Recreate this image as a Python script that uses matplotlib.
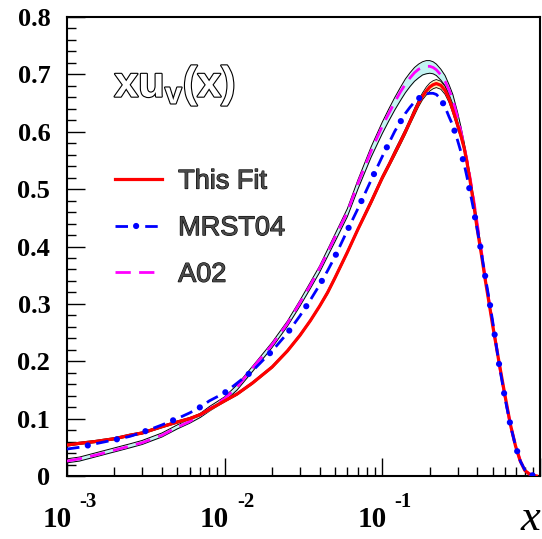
import matplotlib
matplotlib.use("Agg")
import matplotlib.pyplot as plt
import matplotlib.patheffects as pe
from matplotlib.ticker import MultipleLocator, LogLocator, NullFormatter

plt.rcParams["lines.scale_dashes"] = False
plt.rcParams["mathtext.fontset"] = "custom"
plt.rcParams["mathtext.rm"] = "Liberation Sans:bold"
plt.rcParams["mathtext.it"] = "Liberation Sans:bold"

# x grid and curves
X = [0.001, 0.0012, 0.0015, 0.002, 0.0025, 0.003, 0.004, 0.005, 0.006, 0.007,
     0.008, 0.01, 0.012, 0.015, 0.02, 0.025, 0.03, 0.035, 0.04, 0.045,
     0.05, 0.06, 0.07, 0.085, 0.1, 0.11, 0.12, 0.13, 0.14, 0.15,
     0.16, 0.17, 0.18, 0.19, 0.2, 0.21, 0.22, 0.235, 0.25, 0.265,
     0.28, 0.3, 0.315, 0.33, 0.345, 0.36, 0.38, 0.4, 0.425, 0.45,
     0.475, 0.5, 0.55, 0.6, 0.65, 0.7, 0.75, 0.8, 0.85, 0.9,
     0.95]
THIS_FIT = [0.054, 0.057, 0.060, 0.065, 0.071, 0.075, 0.086, 0.094, 0.100, 0.107,
            0.116, 0.131, 0.143, 0.162, 0.190, 0.218, 0.245, 0.271, 0.296, 0.320,
            0.345, 0.390, 0.430, 0.478, 0.520, 0.542, 0.563, 0.582, 0.600, 0.618,
            0.635, 0.650, 0.662, 0.671, 0.678, 0.682, 0.684, 0.681, 0.672, 0.657,
            0.638, 0.612, 0.593, 0.572, 0.545, 0.515, 0.473, 0.430, 0.386, 0.341,
            0.302, 0.264, 0.198, 0.140, 0.089, 0.052, 0.026, 0.010, 0.004, 0.001,
            0.000]
THIS_FIT_ERR = [0.002, 0.002, 0.002, 0.002, 0.002, 0.002, 0.002, 0.002, 0.002, 0.002,
                0.002, 0.002, 0.002, 0.002, 0.002, 0.002, 0.002, 0.002, 0.002, 0.003,
                0.003, 0.003, 0.003, 0.004, 0.004, 0.004, 0.005, 0.005, 0.005, 0.005,
                0.006, 0.006, 0.006, 0.007, 0.007, 0.007, 0.007, 0.007, 0.007, 0.006,
                0.006, 0.006, 0.005, 0.005, 0.005, 0.004, 0.004, 0.004, 0.003, 0.003,
                0.003, 0.003, 0.002, 0.002, 0.002, 0.001, 0.001, 0.001, 0.000, 0.000,
                0.000]
MRST04 = [0.047, 0.050, 0.056, 0.063, 0.069, 0.076, 0.089, 0.100, 0.110, 0.120,
          0.131, 0.145, 0.162, 0.183, 0.218, 0.249, 0.279, 0.307, 0.333, 0.358,
          0.382, 0.428, 0.466, 0.516, 0.557, 0.580, 0.601, 0.617, 0.632, 0.643,
          0.652, 0.658, 0.663, 0.666, 0.667, 0.667, 0.665, 0.657, 0.643, 0.626,
          0.611, 0.585, 0.565, 0.544, 0.520, 0.495, 0.463, 0.430, 0.389, 0.347,
          0.309, 0.271, 0.195, 0.135, 0.088, 0.052, 0.026, 0.011, 0.004, 0.001,
          0.000]
A02 = [0.026, 0.030, 0.036, 0.045, 0.052, 0.058, 0.071, 0.085, 0.095, 0.106,
       0.117, 0.135, 0.155, 0.188, 0.229, 0.266, 0.302, 0.333, 0.362, 0.390,
       0.416, 0.460, 0.510, 0.567, 0.610, 0.632, 0.652, 0.669, 0.683, 0.694,
       0.703, 0.709, 0.712, 0.714, 0.714, 0.712, 0.708, 0.699, 0.688, 0.673,
       0.655, 0.625, 0.601, 0.575, 0.549, 0.520, 0.481, 0.440, 0.392, 0.345,
       0.305, 0.267, 0.196, 0.137, 0.088, 0.052, 0.026, 0.011, 0.004, 0.001,
       0.000]
BAND_HI = [0.030, 0.033, 0.040, 0.049, 0.056, 0.062, 0.075, 0.089, 0.099, 0.109,
           0.121, 0.138, 0.159, 0.191, 0.233, 0.270, 0.306, 0.338, 0.366, 0.395,
           0.421, 0.466, 0.516, 0.574, 0.617, 0.640, 0.660, 0.677, 0.692, 0.703,
           0.712, 0.718, 0.722, 0.724, 0.724, 0.722, 0.718, 0.709, 0.698, 0.682,
           0.665, 0.634, 0.609, 0.582, 0.554, 0.525, 0.485, 0.444, 0.395, 0.348,
           0.308, 0.270, 0.198, 0.139, 0.090, 0.053, 0.027, 0.011, 0.004, 0.001,
           0.000]
BAND_LO = [0.023, 0.026, 0.033, 0.042, 0.049, 0.055, 0.068, 0.082, 0.092, 0.102,
           0.113, 0.130, 0.150, 0.182, 0.224, 0.261, 0.296, 0.327, 0.355, 0.383,
           0.408, 0.452, 0.500, 0.556, 0.597, 0.619, 0.638, 0.654, 0.668, 0.679,
           0.688, 0.694, 0.699, 0.701, 0.702, 0.701, 0.698, 0.690, 0.680, 0.665,
           0.648, 0.618, 0.594, 0.568, 0.542, 0.515, 0.477, 0.436, 0.389, 0.342,
           0.302, 0.264, 0.194, 0.135, 0.087, 0.051, 0.025, 0.010, 0.004, 0.001,
           0.000]

DECADES = [1e-3, 1e-2, 1e-1]
EXPONENTS = ["-3", "-2", "-1"]
Y_TICKS = [0, 0.1, 0.2, 0.3, 0.4, 0.5, 0.6, 0.7, 0.8]
Y_LABELS = ["0", "0.1", "0.2", "0.3", "0.4", "0.5", "0.6", "0.7", "0.8"]

fig = plt.figure(figsize=(5.42, 5.39), dpi=100)
ax = fig.add_axes([67 / 542, 63 / 539, 473 / 542, 459 / 539])

# A02 error band (cyan) and fit band (yellow)
ax.fill_between(X, BAND_LO, BAND_HI, color="#c2f3f3", lw=0, zorder=1)
ax.plot(X, BAND_HI, color="black", lw=0.7, zorder=2)
ax.plot(X, BAND_LO, color="black", lw=0.7, zorder=2)
fit_hi = [y + e for y, e in zip(THIS_FIT, THIS_FIT_ERR)]
fit_lo = [y - e for y, e in zip(THIS_FIT, THIS_FIT_ERR)]
ax.fill_between(X, fit_lo, fit_hi, color="#fbecb4", lw=0, zorder=2)
ax.plot(X, fit_hi, color="black", lw=0.6, zorder=2)
ax.plot(X, fit_lo, color="black", lw=0.6, zorder=2)

l_a02, = ax.plot(X, A02, color="#ff00ff", lw=2.0, linestyle=(0, (11, 6)), zorder=3)
l_fit, = ax.plot(X, THIS_FIT, color="#ff0000", lw=2.3, zorder=4)
# MRST04: dash line plus dots placed in the gaps (same path, aligned patterns)
l_mr1, = ax.plot(X, MRST04, color="#0000ff", lw=2.0, linestyle=(0, (9, 12.4)), zorder=5)
l_mr2, = ax.plot(X, MRST04, color="#0000ff", lw=4.5, linestyle=(6.2, (0.01, 21.39)),
                 dash_capstyle="round", zorder=5)

ax.set_xscale("log")
ax.set_xlim(1e-3, 1)
ax.set_ylim(0, 0.8)

ax.yaxis.set_minor_locator(MultipleLocator(0.02))
ax.xaxis.set_major_locator(LogLocator(base=10, numticks=10))
ax.xaxis.set_minor_locator(LogLocator(base=10, subs=range(2, 10), numticks=20))
ax.xaxis.set_major_formatter(NullFormatter())
ax.xaxis.set_minor_formatter(NullFormatter())
ax.tick_params(which="both", direction="in", top=False, right=False, width=1.0, color="black")
ax.tick_params(which="major", length=13)
ax.tick_params(which="minor", length=6.5)
ax.tick_params(axis="y", which="major", pad=12)
ax.set_yticks(Y_TICKS)
ax.set_yticklabels(Y_LABELS, fontfamily="Liberation Serif", fontweight="bold", fontsize=19)
for s in ax.spines.values():
    s.set_linewidth(1.5)

# x tick labels: "10" with a detached exponent, as in the original
xt = ax.get_xaxis_transform()
for d, e in zip(DECADES, EXPONENTS):
    ax.annotate("10", (d, 0), xycoords=xt, xytext=(3.3, -37), textcoords="offset points",
                ha="right", va="baseline", fontfamily="Liberation Serif",
                fontweight="bold", fontsize=21, annotation_clip=False)
    ax.annotate(e, (d, 0), xycoords=xt, xytext=(8.8, -22.5), textcoords="offset points",
                ha="left", va="baseline", fontfamily="Liberation Serif",
                fontweight="bold", fontsize=15, annotation_clip=False)
fig.text(530 / 542, 9 / 539, "x", ha="center", va="baseline",
         fontfamily="Liberation Serif", fontstyle="italic", fontsize=32)

# outlined (double-stroke) label
outline = [pe.withStroke(linewidth=1.6, foreground="black")]
ax.text(0.100, 0.850, r"$\mathrm{xu_{v}(x)}$", transform=ax.transAxes, ha="left",
        va="center", fontsize=31, color="white", path_effects=outline)

leg = ax.legend([l_fit, (l_mr1, l_mr2), l_a02], ["This Fit", "MRST04", "A02"],
                loc="center left", bbox_to_anchor=(0.1016, 0.540), frameon=False,
                borderpad=0, borderaxespad=0, handlelength=1.73, handletextpad=0.6,
                labelspacing=0.76, prop={"family": "Liberation Sans", "size": 19.5})
for t in leg.get_texts():
    t.set_color("#4a4a4a")
    t.set_path_effects([pe.withStroke(linewidth=0.8, foreground="black")])

fig.savefig("out.png", dpi=100)
